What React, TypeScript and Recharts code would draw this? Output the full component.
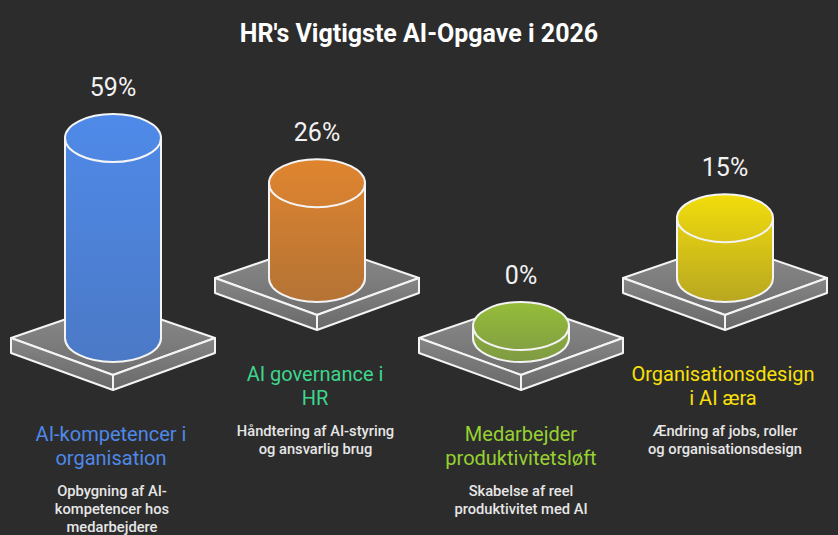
import { BarChart, Bar, XAxis, YAxis } from 'recharts'

const categories = ['AI-kompetencer i organisation', 'AI governance i HR', 'Medarbejder produktivitetsløft', 'Organisationsdesign i AI æra']
const titleLines = [
  ['AI-kompetencer i', 'organisation'],
  ['AI governance i', 'HR'],
  ['Medarbejder', 'produktivitetsløft'],
  ['Organisationsdesign', 'i AI æra'],
]
const descLines = [
  ['Opbygning af AI-', 'kompetencer hos', 'medarbejdere'],
  ['Håndtering af AI-styring', 'og ansvarlig brug'],
  ['Skabelse af reel', 'produktivitet med AI'],
  ['Ændring af jobs, roller', 'og organisationsdesign'],
]
const values = [59, 26, 0, 15]

const titleColors = ['#4f88e8', '#3dd68c', '#97d132', '#fae00a']
const gradTop = ['#4f8ae9', '#e0852f', '#95bd39', '#f2dd0c']
const gradBottom = ['#4b79c6', '#b47335', '#7f9a44', '#b8a721']
// two plinths sit higher than the other two
const lift = [0, 60, 0, 60]
// text blocks are not quite centred on the cylinders
const titleDx = [-2, -2, 0, -2]
const descDx = [-1, -1.5, 0, 0]

const data = categories.map((name, i) => ({ name, value: values[i] }))

const FONT = 'Roboto, sans-serif'
const LINE = '#f4f4f4'
const ZERO_WALL = 12
const RY = 24
const PLINTH_W = 102
const PLINTH_D = 37
const PLINTH_BACK = 35
const PLINTH_T = 15

function Cylinder(props: any) {
  const { x, y, width, height, index } = props
  const cx = x + width / 2
  const rx = width / 2
  const top = y - lift[index]
  const base = y + height + ZERO_WALL - lift[index]
  const l = cx - rx
  const r = cx + rx
  return (
    <g>
      <path
        d={`M${cx - PLINTH_W} ${base} L${cx} ${base - PLINTH_BACK} L${cx + PLINTH_W} ${base} L${cx} ${base + PLINTH_D} Z`}
        fill="url(#plinthTop)"
        stroke={LINE}
        strokeWidth={2}
        strokeLinejoin="round"
      />
      <path
        d={`M${cx - PLINTH_W} ${base} V${base + PLINTH_T} L${cx} ${base + PLINTH_D + PLINTH_T} L${cx + PLINTH_W} ${base + PLINTH_T} V${base} L${cx} ${base + PLINTH_D} Z`}
        fill="url(#plinthSide)"
        stroke={LINE}
        strokeWidth={2}
        strokeLinejoin="round"
      />
      <path d={`M${cx} ${base + PLINTH_D} V${base + PLINTH_D + PLINTH_T}`} stroke={LINE} strokeWidth={2} />
      <path
        d={`M${l} ${top} A${rx} ${RY} 0 0 1 ${r} ${top} V${base} A${rx} ${RY} 0 0 1 ${l} ${base} Z`}
        fill={`url(#body${index})`}
        stroke={LINE}
        strokeWidth={2}
      />
      <path d={`M${l} ${top} A${rx} ${RY} 0 0 0 ${r} ${top}`} fill="none" stroke={LINE} strokeWidth={2} />
    </g>
  )
}

function ValueLabel(props: any) {
  const { x, y, width, value, index } = props
  return (
    <text x={x + width / 2} y={y - lift[index] - 42} textAnchor="middle" fill="#f2f2f2" fontSize={25} fontFamily={FONT}>
      {value}%
    </text>
  )
}

function CategoryTick(props: any) {
  const { x, index } = props
  const shift = lift[index]
  return (
    <g>
      {titleLines[index].map((t, i) => (
        <text key={t} x={x + titleDx[index]} y={441 - shift + i * 24} textAnchor="middle" fill={titleColors[index]} fontSize={20} fontFamily={FONT}>
          {t}
        </text>
      ))}
      {descLines[index].map((t, i) => (
        <text key={t} x={x + descDx[index]} y={496 - shift + i * 18} textAnchor="middle" fill="#e6e6e6" fontSize={14.7} fontWeight={500} fontFamily={FONT}>
          {t}
        </text>
      ))}
    </g>
  )
}

export default function App() {
  return (
    <div style={{ position: 'absolute', left: 0, top: 0, width: 838, height: 535, background: '#2c2c2c', overflow: 'hidden' }}>
      <BarChart width={838} height={535} data={data} margin={{ top: 7.4, right: 11, bottom: 0, left: 11 }} barCategoryGap={0}>
        <defs>
          <linearGradient id="plinthTop" x1="0" y1="0" x2="0" y2="1">
            <stop offset="0%" stopColor="#8c8c8c" />
            <stop offset="100%" stopColor="#6f6f6f" />
          </linearGradient>
          <linearGradient id="plinthSide" x1="0" y1="0" x2="0" y2="1">
            <stop offset="0%" stopColor="#858585" />
            <stop offset="100%" stopColor="#696969" />
          </linearGradient>
          {categories.map((_, i) => (
            <linearGradient key={i} id={`body${i}`} x1="0" y1="0" x2="0" y2="1">
              <stop offset="0%" stopColor={gradTop[i]} />
              <stop offset="100%" stopColor={gradBottom[i]} />
            </linearGradient>
          ))}
        </defs>
        <text x={419} y={42} textAnchor="middle" fill="#ffffff" fontSize={25} fontWeight={700} fontFamily={FONT}>
          HR's Vigtigste AI-Opgave i 2026
        </text>
        <XAxis dataKey="name" height={209} axisLine={false} tickLine={false} interval={0} tick={CategoryTick} />
        <YAxis hide domain={[0, 100]} />
        <Bar dataKey="value" barSize={96} shape={Cylinder} label={ValueLabel} isAnimationActive={false} />
      </BarChart>
    </div>
  )
}
